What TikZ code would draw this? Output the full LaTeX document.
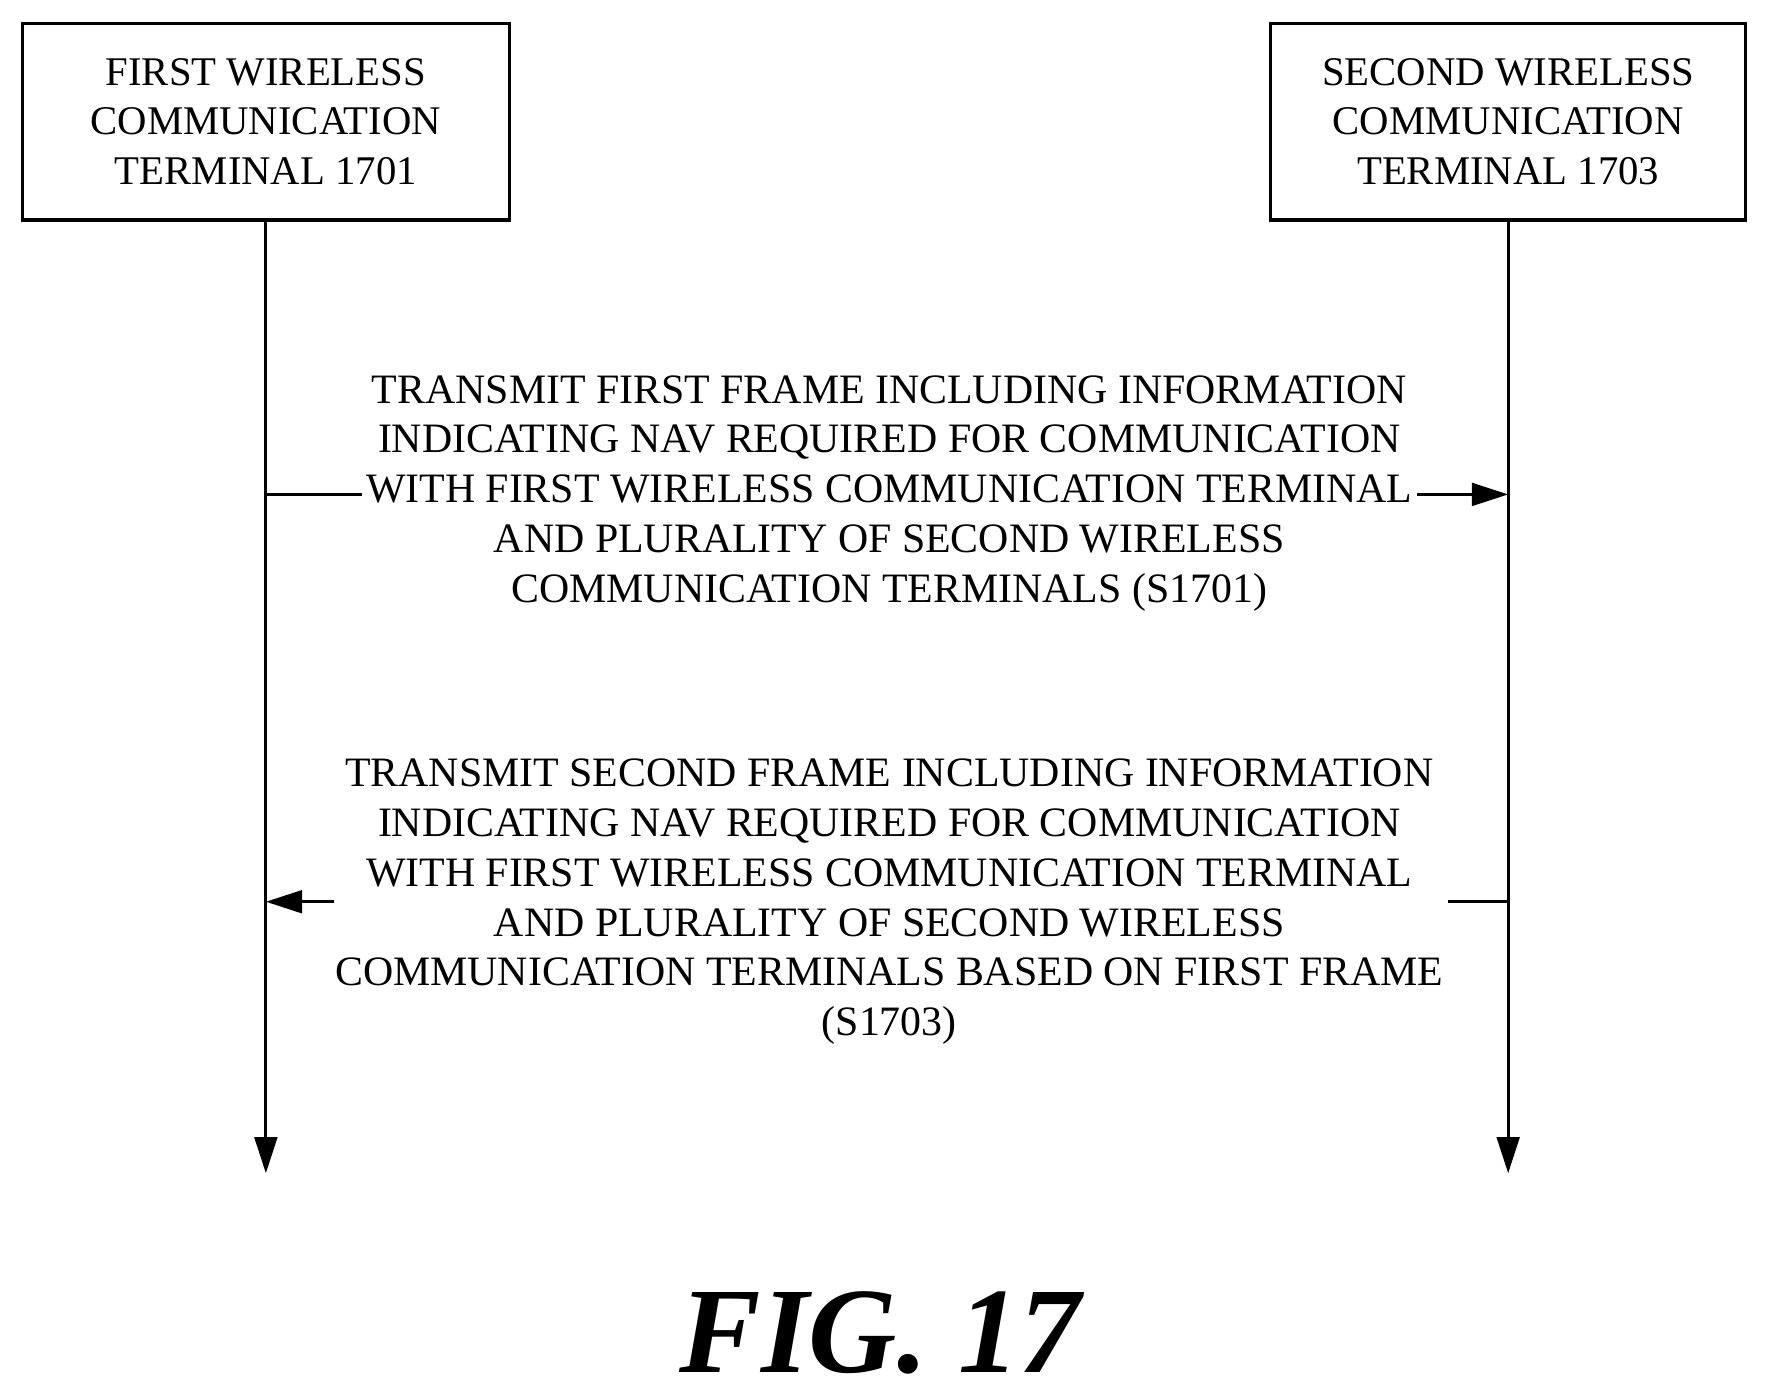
\documentclass[tikz,border=0pt]{standalone}
\usepackage{fontspec}
\setmainfont{Liberation Serif}
\usetikzlibrary{arrows.meta}
\begin{document}
\begin{tikzpicture}[x=0.5pt,y=-0.5pt,
  box/.style={draw,line width=1.4pt,minimum width=215pt,minimum height=87pt,align=center,font=\fontsize{18}{22}\selectfont,inner sep=0pt},
  lbl/.style={align=center,font=\fontsize{18.5}{22}\selectfont,inner sep=2pt,fill=white},
  line/.style={line width=1.4pt},
  arr/.style={line width=1.4pt,-{Triangle[length=16pt,width=10pt]}}]
\useasboundingbox (0,0) rectangle (1560,1237);
\node[box] (a) at (235,107.5) {FIRST WIRELESS\\COMMUNICATION\\TERMINAL 1701};
\node[box,minimum width=210pt] (b) at (1333,107.5) {SECOND WIRELESS\\COMMUNICATION\\TERMINAL 1703};
\coordinate (ae) at (235,1037);
\coordinate (be) at (1333,1037);
\draw[arr] (a.south) -- (ae);
\draw[arr] (b.south) -- (be);
\coordinate (m1a) at (235,437);
\coordinate (m1b) at (1333,437);
\draw[arr] (m1a) -- (m1b);
\node[lbl] (t1) at (786,436) {TRANSMIT FIRST FRAME INCLUDING INFORMATION\\INDICATING NAV REQUIRED FOR COMMUNICATION\\WITH FIRST WIRELESS COMMUNICATION TERMINAL\\AND PLURALITY OF SECOND WIRELESS\\COMMUNICATION TERMINALS (S1701)};
\coordinate (m2a) at (235,797);
\coordinate (m2b) at (1333,797);
\coordinate (g1) at (295,797);
\coordinate (g2) at (1280,797);
\draw[arr] (g1) -- (m2a);
\draw[line] (g2) -- (m2b);
\node[lbl,fill=none] (t2) at (786,797) {TRANSMIT SECOND FRAME INCLUDING INFORMATION\\INDICATING NAV REQUIRED FOR COMMUNICATION\\WITH FIRST WIRELESS COMMUNICATION TERMINAL\\AND PLURALITY OF SECOND WIRELESS\\COMMUNICATION TERMINALS BASED ON FIRST FRAME\\(S1703)};
\node[font=\fontsize{54}{56}\selectfont\bfseries\itshape] (fig) at (778,1178) {FIG. 17};
\end{tikzpicture}
\end{document}
